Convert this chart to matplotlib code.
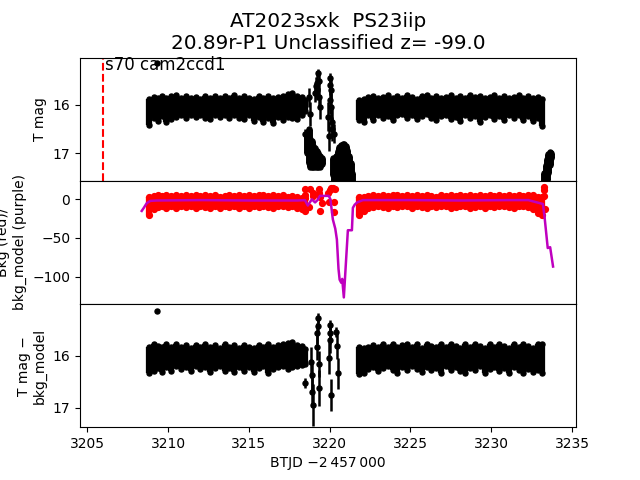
import matplotlib
matplotlib.use("Agg")
import matplotlib.pyplot as plt

# the dense clouds are kept as upper/lower edges per time step
TITLE = "AT2023sxk  PS23iip\n20.89r-P1 Unclassified z= -99.0"
SECTOR_LABEL = "s70 cam2ccd1"
PEAK_TIME = 3205.96

t1 = [3208.85, 3209.1, 3209.35, 3209.6, 3209.9, 3210.2, 3210.5, 3210.8, 3211.1, 3211.4, 3211.7, 3212.0,
      3212.3, 3212.6, 3212.9, 3213.2, 3213.5, 3213.8, 3214.1, 3214.4, 3214.7, 3215.0, 3215.3, 3215.6,
      3215.9, 3216.2, 3216.5, 3216.8, 3217.1, 3217.4, 3217.7, 3218.0, 3218.3, 3218.5]
t2 = [3221.8, 3222.1, 3222.4, 3222.7, 3223.0, 3223.3, 3223.6, 3223.9, 3224.2, 3224.5, 3224.8, 3225.1,
      3225.4, 3225.7, 3226.0, 3226.3, 3226.6, 3226.9, 3227.2, 3227.5, 3227.8, 3228.1, 3228.4, 3228.7,
      3229.0, 3229.3, 3229.6, 3229.9, 3230.2, 3230.5, 3230.8, 3231.1, 3231.4, 3231.7, 3232.0, 3232.3,
      3232.6, 3232.9, 3233.15]

# top panel
mag_hi1 = [15.88, 15.85, 15.86, 15.82, 15.86, 15.83, 15.80, 15.86, 15.82, 15.87, 15.84, 15.88,
           15.82, 15.86, 15.83, 15.87, 15.82, 15.86, 15.81, 15.87, 15.82, 15.86, 15.88, 15.83,
           15.87, 15.82, 15.86, 15.84, 15.82, 15.78, 15.77, 15.83, 15.84, 15.90]
mag_lo1 = [16.42, 16.27, 16.33, 16.23, 16.35, 16.30, 16.25, 16.21, 16.28, 16.22, 16.26, 16.21,
           16.28, 16.30, 16.22, 16.26, 16.21, 16.27, 16.22, 16.28, 16.30, 16.22, 16.33, 16.25,
           16.35, 16.27, 16.37, 16.25, 16.32, 16.25, 16.28, 16.30, 16.21, 16.13]
mag_hi2 = [15.90, 15.88, 15.84, 15.82, 15.87, 15.84, 15.81, 15.86, 15.82, 15.87, 15.81, 15.85,
           15.88, 15.83, 15.81, 15.86, 15.82, 15.87, 15.84, 15.80, 15.86, 15.82, 15.87, 15.81,
           15.85, 15.82, 15.87, 15.84, 15.81, 15.86, 15.82, 15.87, 15.84, 15.80, 15.86, 15.82,
           15.87, 15.84, 15.88]
mag_lo2 = [16.31, 16.36, 16.22, 16.32, 16.21, 16.28, 16.24, 16.31, 16.22, 16.20, 16.27, 16.22,
           16.30, 16.23, 16.20, 16.28, 16.32, 16.24, 16.21, 16.30, 16.25, 16.34, 16.22, 16.28,
           16.24, 16.35, 16.26, 16.22, 16.30, 16.24, 16.32, 16.21, 16.28, 16.22, 16.31, 16.24,
           16.34, 16.27, 16.45]

# fading wedges caught by scattered light
wedge_t = [3218.6, 3218.7, 3218.8, 3218.9, 3219.0, 3219.1, 3219.2, 3219.3, 3219.4, 3219.5,
           3220.2, 3220.3, 3220.4, 3220.5, 3220.6, 3220.7, 3220.8, 3220.9, 3221.0, 3221.1, 3221.2, 3221.3, 3221.38,
           3233.3, 3233.38, 3233.46, 3233.54, 3233.62, 3233.7]
wedge_hi = [16.6, 16.5, 16.7, 16.75, 16.85, 16.9, 16.95, 17.0, 17.05, 17.1,
            17.1, 17.15, 17.05, 16.95, 16.88, 16.84, 16.82, 16.82, 16.86, 16.94, 17.05, 17.2, 17.4,
            17.4, 17.25, 17.12, 17.02, 16.97, 17.0]
wedge_lo = [17.0, 17.2, 17.28, 17.28, 17.28, 17.28, 17.28, 17.28, 17.28, 17.22,
            17.45, 17.7, 17.7, 17.7, 17.7, 17.7, 17.7, 17.7, 17.7, 17.7, 17.7, 17.7, 17.7,
            17.7, 17.7, 17.55, 17.4, 17.25, 17.1]

# scattered points with error bars, top panel
col_t = [3209.3, 3218.45, 3218.75, 3218.8, 3219.1, 3219.15, 3219.2, 3219.25, 3219.3, 3219.32, 3219.35, 3219.4,
         3219.9, 3219.95, 3220.0, 3220.02, 3220.05, 3220.08, 3220.1, 3220.12, 3220.15, 3220.25]
col_mag = [15.15, 16.6, 15.85, 16.2, 15.75, 15.62, 15.55, 15.7, 15.35, 15.52, 15.85, 16.05,
           16.25, 16.65, 15.6, 15.45, 15.9, 15.7, 16.05, 16.35, 16.5, 16.6]
col_err = [0.03, 0.1, 0.2, 0.25, 0.2, 0.2, 0.25, 0.2, 0.08, 0.15, 0.2, 0.25,
           0.3, 0.3, 0.2, 0.1, 0.3, 0.25, 0.3, 0.3, 0.25, 0.2]

# middle panel, background
bkg_hi1 = [3, 4, 5, 4, 5, 4, 6, 4, 6, 4, 5, 4,
           5, 4, 5, 3, 4, 5, 4, 5, 4, 5, 4, 6,
           6, 4, 5, 4, 5, 3, 4, 3, 2, 2]
bkg_lo1 = [-20, -12, -10, -9, -11, -9, -11, -9, -10, -9, -11, -8,
           -10, -11, -9, -11, -8, -10, -9, -11, -8, -11, -9, -10,
           -8, -10, -11, -9, -8, -10, -9, -11, -12, -15]
bkg_hi2 = [3, 3, 4, 5, 4, 6, 4, 5, 6, 4, 5, 4,
           6, 4, 5, 4, 3, 5, 4, 6, 4, 5, 4, 5,
           4, 5, 4, 6, 4, 5, 4, 5, 4, 5, 4, 5,
           5, 3, 3]
bkg_lo2 = [-20, -15, -11, -10, -8, -10, -11, -8, -10, -9, -8, -11,
           -8, -10, -11, -8, -10, -8, -9, -11, -10, -8, -9, -11,
           -10, -8, -11, -8, -10, -9, -8, -10, -11, -9, -8, -10,
           -12, -18, -20]
red_t = [3218.45, 3218.5, 3218.7, 3218.78, 3218.95, 3219.0, 3219.32, 3219.35, 3219.4, 3219.4, 3219.5, 3219.9, 3219.95,
         3220.05, 3220.1, 3220.2, 3220.25, 3220.3, 3220.35, 3233.25, 3233.3, 3233.3, 3233.35]
red_bkg = [13, 6, -10, 14, 8, 4, 14, 8, 3, -15, -5, 8, -4,
           12, 15, 15, -3, -16, 14, 12, 16, 4, -12]

model_t = [3208.37, 3208.5, 3208.68, 3208.9, 3209.3, 3212.0, 3215.0, 3218.0, 3218.47, 3218.65, 3218.9, 3219.1, 3219.25,
           3219.4, 3219.95, 3220.05, 3220.2, 3220.35, 3220.45, 3220.55, 3220.62, 3220.72, 3220.78, 3220.88, 3221.13,
           3221.38, 3221.44, 3221.55, 3221.7, 3222.06, 3225.0, 3228.0, 3231.0, 3232.3, 3233.2, 3233.3, 3233.5,
           3233.65, 3233.83]
model_bkg = [-15, -11, -5, -2, -1.5, -1, -1.5, -1.5, -1, -8, 0, -4, -1,
             4.5, 4.5, 0, -26, -38, -52, -90, -104, -108, -103, -127, -40,
             -40, -11, -7, -4, -1, -1, -1.5, -1, -1, -6, -22, -63,
             -62, -87]

# bottom panel, background subtracted
sub_hi1 = [15.82, 15.77, 15.80, 15.83, 15.77, 15.82, 15.76, 15.83, 15.78, 15.84, 15.79, 15.83,
           15.77, 15.82, 15.79, 15.84, 15.77, 15.82, 15.78, 15.84, 15.79, 15.82, 15.85, 15.79,
           15.82, 15.77, 15.82, 15.79, 15.76, 15.75, 15.74, 15.78, 15.80, 15.86]
sub_lo1 = [16.33, 16.28, 16.23, 16.30, 16.21, 16.28, 16.20, 16.26, 16.22, 16.29, 16.20, 16.26,
           16.22, 16.30, 16.24, 16.20, 16.28, 16.23, 16.30, 16.21, 16.28, 16.22, 16.30, 16.24,
           16.20, 16.32, 16.26, 16.21, 16.19, 16.26, 16.22, 16.20, 16.17, 16.15]
sub_hi2 = [15.82, 15.85, 15.83, 15.78, 15.83, 15.77, 15.82, 15.76, 15.83, 15.79, 15.76, 15.82,
           15.77, 15.84, 15.76, 15.80, 15.83, 15.77, 15.82, 15.76, 15.80, 15.84, 15.77, 15.82,
           15.76, 15.80, 15.84, 15.77, 15.82, 15.76, 15.80, 15.84, 15.77, 15.82, 15.76, 15.80,
           15.84, 15.77, 15.76]
sub_lo2 = [16.35, 16.32, 16.26, 16.21, 16.29, 16.23, 16.20, 16.27, 16.32, 16.21, 16.27, 16.20,
           16.26, 16.31, 16.21, 16.27, 16.23, 16.32, 16.20, 16.27, 16.21, 16.29, 16.33, 16.23,
           16.27, 16.20, 16.32, 16.26, 16.21, 16.29, 16.23, 16.33, 16.21, 16.27, 16.32, 16.26,
           16.31, 16.27, 16.33]
sub_t = [3209.3, 3218.5, 3218.85, 3218.9, 3218.9, 3218.95, 3219.2, 3219.25, 3219.3, 3219.3, 3219.35, 3219.35,
         3219.95, 3220.0, 3220.05, 3220.05, 3220.1, 3220.4, 3220.45, 3220.5]
sub_mag = [15.13, 16.52, 16.12, 16.37, 16.69, 16.94, 15.83, 15.56, 15.27, 15.42, 16.15, 16.62,
           16.04, 15.4, 15.56, 15.69, 16.75, 15.54, 15.8, 16.33]
sub_err = [0.03, 0.1, 0.3, 0.3, 0.3, 0.4, 0.25, 0.2, 0.1, 0.15, 0.25, 0.35,
           0.3, 0.1, 0.2, 0.25, 0.3, 0.1, 0.25, 0.3]


def draw_band(ax, t, hi, lo, color, width=4.5, size=3.6):
    ax.vlines(t, hi, lo, color=color, lw=width)
    ax.plot(t, hi, "o", color=color, ms=size)
    ax.plot(t, lo, "o", color=color, ms=size)


fig, (ax1, ax2, ax3) = plt.subplots(3, 1, sharex=True, figsize=(6.4, 4.8))
fig.subplots_adjust(hspace=0)

draw_band(ax1, t1, mag_hi1, mag_lo1, "k")
draw_band(ax1, t2, mag_hi2, mag_lo2, "k")
draw_band(ax1, wedge_t, wedge_hi, wedge_lo, "k", width=5)
ax1.errorbar(col_t, col_mag, yerr=col_err, fmt="o", color="k", ms=3.6, lw=1.8)
ax1.axvline(PEAK_TIME, color="r", ls="--", lw=1.5)
ax1.text(PEAK_TIME + 0.12, 15.18, SECTOR_LABEL, fontsize=12, va="center")
ax1.set_ylim(17.57, 15.03)
ax1.set_yticks([16, 17])
ax1.set_ylabel("T mag")
ax1.set_title(TITLE, fontsize=14.4)

draw_band(ax2, t1, bkg_hi1, bkg_lo1, "r", size=4.2)
draw_band(ax2, t2, bkg_hi2, bkg_lo2, "r", size=4.2)
ax2.plot(red_t, red_bkg, "o", color="r", ms=4.2)
ax2.plot(model_t, model_bkg, color="m", lw=1.8)
ax2.set_ylim(-135.5, 24)
ax2.set_yticks([0, -50, -100])
ax2.set_ylabel("Bkg (red)/\nbkg_model (purple)")

draw_band(ax3, t1, sub_hi1, sub_lo1, "k")
draw_band(ax3, t2, sub_hi2, sub_lo2, "k")
ax3.errorbar(sub_t, sub_mag, yerr=sub_err, fmt="o", color="k", ms=3.6, lw=1.8)
ax3.set_ylim(17.37, 15.0)
ax3.set_yticks([16, 17])
ax3.set_ylabel("T mag \u2212\nbkg_model")
ax3.set_xlim(3204.55, 3235.25)
ax3.set_xlabel("BTJD \u22122\u2009457\u2009000")

fig.savefig("out.png", dpi=100)
